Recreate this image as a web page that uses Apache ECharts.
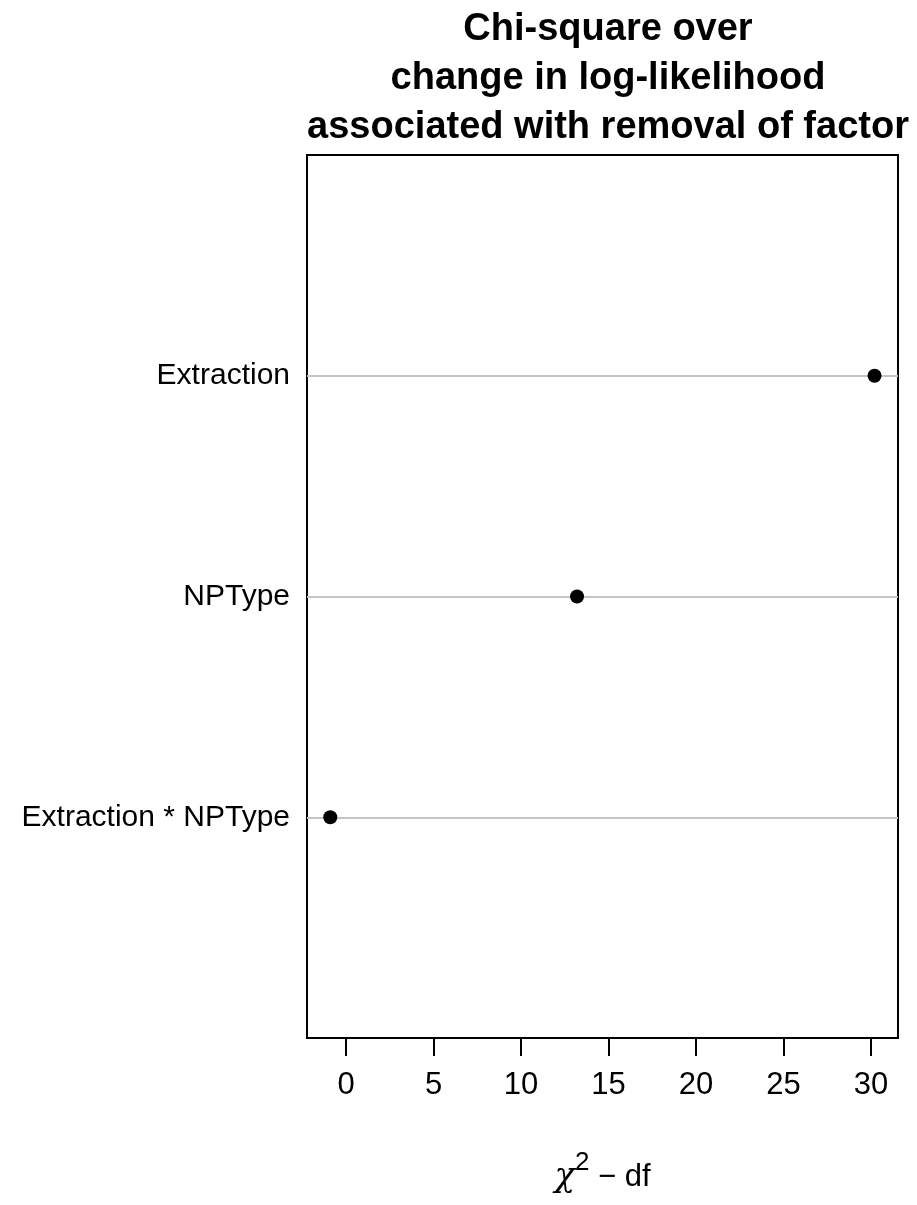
<!DOCTYPE html>
<html>
<head>
<meta charset="utf-8">
<script src="https://cdn.jsdelivr.net/npm/echarts@6/dist/echarts.min.js"></script>
<style>
html,body{margin:0;padding:0;background:#fff;}
#chart{width:917px;height:1205px;}
</style>
</head>
<body>
<div id="chart"></div>
<script>
// Data (bottom to top, as in the dot chart)
const factors = ['Extraction * NPType', 'NPType', 'Extraction'];
const chiSqMinusDf = [-0.9, 13.2, 30.2];
const xTicks = [0, 5, 10, 15, 20, 25, 30];
const titleText = 'Chi-square over\nchange in log-likelihood\nassociated with removal of factor';

const sans = '"Liberation Sans", Arial, sans-serif';
const chart = echarts.init(document.getElementById('chart'), null, {renderer: 'canvas'});

const points = factors.map((f, i) => [chiSqMinusDf[i], i + 1]);

chart.setOption({
  animation: false,
  backgroundColor: '#ffffff',
  title: {
    text: titleText,
    left: 603,
    textAlign: 'center',
    top: 0,
    textStyle: {
      fontFamily: sans,
      fontWeight: 'bold',
      fontSize: 38,
      lineHeight: 49,
      color: '#000'
    }
  },
  grid: {
    left: 307, right: 19, top: 155, bottom: 167,
    outerBoundsMode: 'none',
    containLabel: false,
    show: true, borderColor: '#000', borderWidth: 2, backgroundColor: 'transparent'
  },
  xAxis: {
    type: 'value',
    min: -2.23,
    max: 31.54,
    axisLine: {show: true, onZero: false, lineStyle: {color: '#000', width: 2}},
    axisTick: {show: true, customValues: xTicks, length: 18, lineStyle: {color: '#000', width: 2}},
    axisLabel: {
      customValues: xTicks, margin: 32,
      fontFamily: sans, fontSize: 31, color: '#000'
    },
    splitLine: {show: false},
    name: '{chi|χ}{sup|2}{txt| − df}',
    nameLocation: 'middle',
    nameGap: 112,
    nameTextStyle: {
      rich: {
        chi: {fontFamily: '"DejaVu Serif", serif', fontStyle: 'italic', fontSize: 34, color: '#000'},
        sup: {fontFamily: sans, fontSize: 26, color: '#000', padding: [0, 0, 28, 0]},
        txt: {fontFamily: sans, fontSize: 31, color: '#000'}
      }
    }
  },
  yAxis: {
    type: 'value',
    min: 0,
    max: 4,
    interval: 1,
    axisLine: {show: false},
    axisTick: {show: false},
    splitLine: {show: false},
    axisLabel: {
      margin: 17,
      fontFamily: sans, fontSize: 30, color: '#000',
      formatter: v => factors[v - 1] || ''
    }
  },
  series: [
    {
      type: 'line',
      data: [],
      z: 1,
      markLine: {
        silent: true,
        symbol: 'none',
        label: {show: false},
        lineStyle: {color: '#c4c4c4', width: 2, type: 'solid', opacity: 1},
        data: factors.map((f, i) => ({yAxis: i + 1}))
      }
    },
    {
      type: 'scatter',
      z: 5,
      symbol: 'circle',
      symbolSize: 14,
      itemStyle: {color: '#000', opacity: 1},
      data: points
    }
  ]
});
</script>
</body>
</html>
